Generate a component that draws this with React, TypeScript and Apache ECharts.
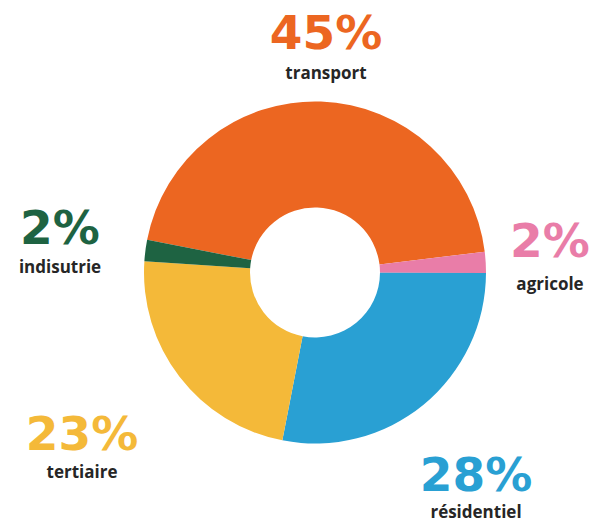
import React, { useEffect, useRef } from "react";
import * as echarts from "echarts";

const categories = ["transport", "agricole", "résidentiel", "tertiaire", "indisutrie"];
const values = [45, 2, 28, 23, 2];
const colors = ["#EC6621", "#E97DA8", "#29A0D3", "#F4B939", "#1E6342"];

// label anchor positions (pixel layout)
const labelPos = [
  { x: 326, y: 32, ny: 72 },
  { x: 550, y: 240, ny: 283 },
  { x: 476, y: 474, ny: 511 },
  { x: 82, y: 433, ny: 471 },
  { x: 60, y: 227, ny: 266 },
];

export default function App() {
  const ref = useRef<HTMLDivElement>(null);
  useEffect(() => {
    if (!ref.current) return;
    const chart = echarts.init(ref.current, null, { renderer: "svg" });
    const graphics: any[] = [];
    categories.forEach((name, i) => {
      const p = labelPos[i];
      graphics.push({
        type: "text",
        x: p.x,
        y: p.y,
        style: {
          text: values[i] + "%",
          fill: colors[i],
          font: 'bold 47px "DejaVu Sans"',
          textAlign: "center",
          textVerticalAlign: "middle",
        },
      });
      graphics.push({
        type: "text",
        x: p.x,
        y: p.ny,
        style: {
          text: name,
          fill: "#262626",
          font: '700 17px "Open Sans"',
          textAlign: "center",
          textVerticalAlign: "middle",
        },
      });
    });
    chart.setOption({
      animation: false,
      backgroundColor: "#ffffff",
      graphic: graphics,
      series: [
        {
          type: "pie",
          center: [315, 272.5],
          radius: [65, 171],
          startAngle: 169,
          clockwise: true,
          label: { show: false },
          labelLine: { show: false },
          emphasis: { disabled: true },
          itemStyle: { borderWidth: 0 },
          data: categories.map((name, i) => ({
            name,
            value: values[i],
            itemStyle: { color: colors[i] },
          })),
        },
      ],
    });
    return () => chart.dispose();
  }, []);
  return (
    <div
      ref={ref}
      style={{ position: "absolute", left: 0, top: 0, width: 600, height: 522 }}
    />
  );
}
